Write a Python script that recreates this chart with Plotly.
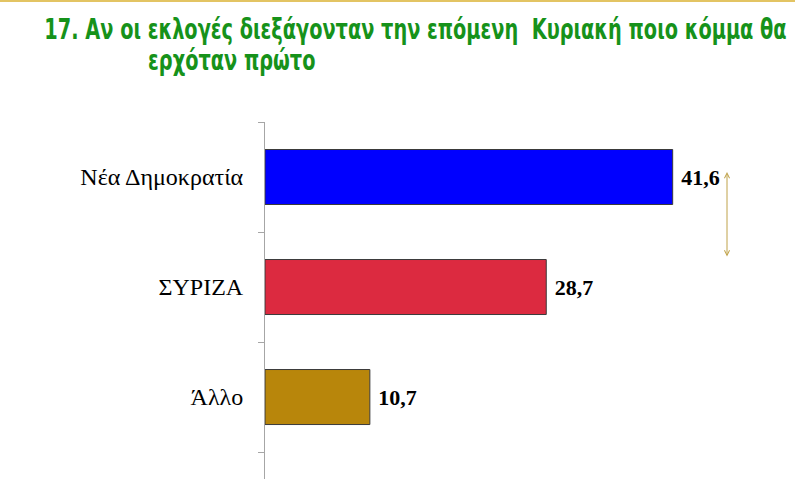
import plotly.graph_objects as go

categories = ["Άλλο", "ΣΥΡΙΖΑ", "Νέα Δημοκρατία"]
values = [10.7, 28.7, 41.6]
colors = ["#B8860B", "#DC2A40", "#0000FF"]
title_line1 = "17. Αν οι εκλογές διεξάγονταν την επόμενη  Κυριακή ποιο κόμμα θα"
title_line2 = "ερχόταν πρώτο"

W, H = 795, 479
L, T = 265, 122
plot_w = W - L
plot_h = H - T

def px_x(p):
    return (p - L) / plot_w

def px_y(p):
    return (H - p) / plot_h

fig = go.Figure(go.Bar(
    y=categories, x=values, orientation="h",
    marker=dict(color=colors, line=dict(color="#3a3a3a", width=1)),
    texttemplate=" %{x:.1f}", textposition="outside",
    textfont=dict(family="Liberation Serif", size=22, color="#000000", weight="bold"),
    cliponaxis=False, width=0.5,
))

fig.update_layout(
    width=W, height=H,
    margin=dict(l=L, r=0, t=T, b=0),
    paper_bgcolor="white", plot_bgcolor="white",
    separators=",.",
    showlegend=False,
    xaxis=dict(visible=False, range=[0, plot_w / 9.8], fixedrange=True),
    yaxis=dict(
        type="category", range=[-0.745, 2.5],
        showline=True, linecolor="#a6a6a6", linewidth=1,
        ticks="outside", tickson="boundaries", ticklen=6, tickcolor="#a6a6a6",
        ticklabelstandoff=16,
        tickfont=dict(family="Liberation Serif", size=24, color="#000000"),
        showgrid=False, zeroline=False, fixedrange=True,
    ),
    font=dict(family="Liberation Serif"),
)

title_font = dict(family="DejaVu Sans", size=29, color="#16921A", weight="bold")

# title (two lines, horizontally condensed after render)
fig.add_annotation(text=title_line1, xref="paper", yref="paper",
                   x=px_x(42), y=px_y(10), xanchor="left", yanchor="top",
                   showarrow=False, font=title_font)
fig.add_annotation(text=title_line2, xref="paper", yref="paper",
                   x=px_x(146), y=px_y(41), xanchor="left", yanchor="top",
                   showarrow=False, font=title_font)

# top border line
fig.add_shape(type="line", xref="paper", yref="paper",
              x0=px_x(0), x1=px_x(W), y0=px_y(1), y1=px_y(1),
              line=dict(color="#E3C463", width=2))

# double arrow
fig.add_annotation(xref="paper", yref="paper", x=px_x(727), y=px_y(172),
                   ax=0, ay=86, axref="pixel", ayref="pixel",
                   text="", showarrow=True, arrowside="end+start",
                   arrowhead=5, arrowsize=1, arrowwidth=1, arrowcolor="#BFA24A")

post = """
document.body.style.margin='0';
var ts = document.querySelectorAll('.annotation-text');
var titles = [];
ts.forEach(function(t){ if (t.textContent.trim().length > 0) titles.push(t); });
if (titles.length >= 2) {
  var b0 = titles[0].getBBox();
  var s = 743 / b0.width;
  titles.forEach(function(t){
    var b = t.getBBox();
    t.setAttribute('transform', 'translate(' + b.x + ',0) scale(' + s + ',1) translate(' + (-b.x) + ',0)');
  });
}
"""

fig.write_html("out.html", post_script=post, config={"displayModeBar": False})
